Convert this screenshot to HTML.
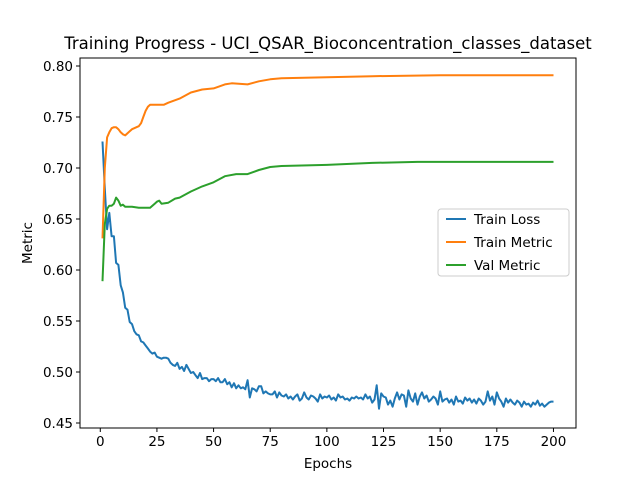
<!DOCTYPE html>
<html><head><meta charset="utf-8"><style>body{margin:0;background:#fff}svg{display:block;font-family:"DejaVu Sans","Liberation Sans",sans-serif}</style></head>
<body>
<svg id="c" width="640" height="480"></svg>
<script>
const lossValues=[.726,.680,.640,.656,.633,.633,.607,.605,.585,.578,
.563,.561,.549,.547,.540,.537,.536,.530,.529,.526,
.523,.520,.518,.519,.515,.514,.513,.514,.514,.513,
.509,.507,.506,.509,.503,.505,.501,.507,.503,.499,
.500,.497,.494,.499,.493,.494,.494,.491,.493,.493,
.491,.494,.490,.490,.493,.488,.490,.485,.489,.484,
.487,.484,.485,.483,.492,.475,.484,.483,.481,.486,
.486,.479,.481,.479,.478,.478,.481,.475,.480,.477,
.476,.478,.474,.476,.473,.476,.478,.472,.474,.480,
.475,.473,.477,.476,.474,.471,.478,.474,.476,.475,
.477,.473,.475,.472,.478,.475,.476,.473,.474,.472,
.475,.474,.476,.474,.475,.473,.478,.474,.476,.470,
.473,.487,.464,.479,.476,.475,.468,.472,.466,.474,
.480,.473,.478,.477,.466,.482,.474,.471,.479,.468,
.476,.480,.474,.477,.471,.473,.476,.474,.468,.481,
.471,.473,.474,.470,.473,.468,.476,.471,.472,.469,
.475,.472,.474,.470,.473,.469,.474,.472,.468,.471,
.481,.472,.476,.468,.480,.474,.471,.466,.474,.470,
.473,.470,.468,.472,.470,.466,.471,.468,.469,.466,
.470,.468,.472,.467,.469,.466,.468,.470,.471,.471];
const trainEpochs=[1,2,3,4,5,6,7,8,9,10,11,12,13,14,15,16,17,18,19,20,21,22,25,28,30,35,40,45,50,55,58,65,70,75,80,100,120,150,200];
const trainValues=[.631,.700,.730,.735,.739,.740,.740,.738,.735,.733,.732,.734,.736,.738,.739,.740,.741,.744,.750,.756,.760,.762,.762,.762,.764,.768,.774,.777,.778,.782,.783,.782,.785,.787,.788,.789,.790,.791,.791];
const valEpochs=[1,2,3,4,5,6,7,8,9,10,11,12,14,17,20,22,24,25,26,27,30,33,35,40,45,50,55,60,65,70,75,80,100,120,140,200];
const valValues=[.589,.645,.660,.663,.663,.665,.671,.668,.663,.664,.662,.662,.662,.661,.661,.661,.665,.667,.668,.665,.666,.670,.671,.677,.682,.686,.692,.694,.694,.698,.701,.702,.703,.705,.706,.706];
const xTicks=[0,25,50,75,100,125,150,175,200];
const yTicks=[0.45,0.50,0.55,0.60,0.65,0.70,0.75,0.80];
const L=80,R=576,T=58,B=428;
const X=v=>L+(v+8.95)/218.9*(R-L);
const Y=v=>423-(v-0.45)/0.35*357;
const svg=document.getElementById('c');const NS='http://www.w3.org/2000/svg';
function mk(t,a,p){const e=document.createElementNS(NS,t);for(const k in a)e.setAttribute(k,a[k]);(p||svg).appendChild(e);return e;}
let e;
e=mk('rect',{x:L,y:T,width:R-L,height:B-T,fill:'none',stroke:'#000','stroke-width':1});


xTicks.forEach(t=>{mk('line',{x1:X(t),x2:X(t),y1:B,y2:B+4,stroke:'#000'});
e=mk('text',{x:X(t),y:B+18,'font-size':'13.5','text-anchor':'middle'});e.textContent=t;

});
yTicks.forEach(t=>{mk('line',{x1:L-4,x2:L,y1:Y(t),y2:Y(t),stroke:'#000'});
e=mk('text',{x:L-7,y:Y(t)+5,'font-size':'13.5','text-anchor':'end'});e.textContent=t.toFixed(2);

});
function line(xs,ys,c,n){const d=xs.map((x,i)=>(i?'L':'M')+X(x).toFixed(1)+','+Y(ys[i]).toFixed(1)).join('');
const p=mk('path',{d:d,fill:'none',stroke:c,'stroke-width':2,'stroke-linejoin':'round'});

}
line(lossValues.map((v,i)=>i+1),lossValues,'#1f77b4','train-loss-line');
line(trainEpochs,trainValues,'#ff7f0e','train-metric-line');
line(valEpochs,valValues,'#2ca02c','val-metric-line');
e=mk('text',{x:328,y:49,'font-size':'16.5','text-anchor':'middle'});e.textContent='Training Progress - UCI_QSAR_Bioconcentration_classes_dataset';


e=mk('text',{x:328,y:468,'font-size':'13.5','text-anchor':'middle'});e.textContent='Epochs';


e=mk('text',{x:32,y:243,'font-size':'13.5','text-anchor':'middle',transform:'rotate(-90 32 243)'});e.textContent='Metric';


const lg=mk('g',{});


mk('rect',{x:438,y:209,width:131,height:67,rx:3,fill:'#fff','fill-opacity':0.8,stroke:'#ccc'},lg);
[['Train Loss','#1f77b4'],['Train Metric','#ff7f0e'],['Val Metric','#2ca02c']].forEach((s,i)=>{const y=219+i*23;
mk('line',{x1:446,x2:466,y1:y,y2:y,stroke:s[1],'stroke-width':2},lg);
const t=mk('text',{x:474,y:y+5,'font-size':'13.5'},lg);t.textContent=s[0];

});
</script>
</body></html>
